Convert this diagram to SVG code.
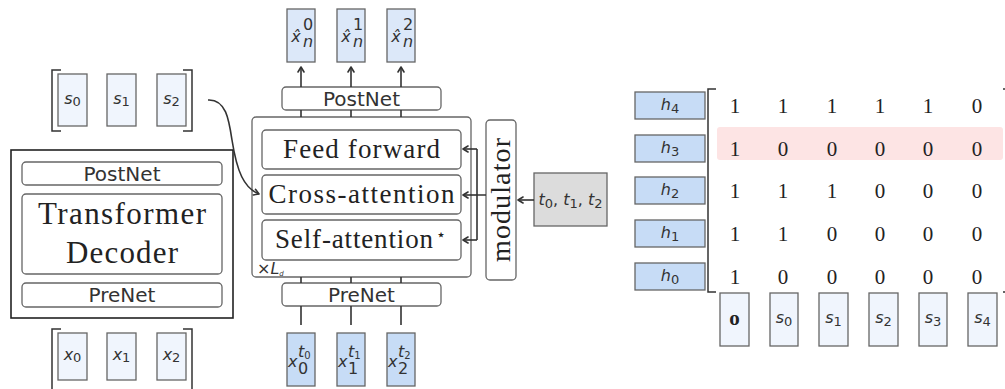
<svg xmlns="http://www.w3.org/2000/svg" width="1005" height="389" viewBox="0 0 1005 389">
  <defs>
    <marker id="arr" markerWidth="8" markerHeight="8" refX="6" refY="4" orient="auto" markerUnits="userSpaceOnUse">
      <path d="M1,1 L6,4 L1,7" fill="none" stroke="#333" stroke-width="1.6" stroke-linecap="round" stroke-linejoin="round"/>
    </marker>
    <style>
      .vec { stroke: #666; stroke-width: 1.3; }
      .lt { fill: #f0f5fd; }
      .md { fill: #dce8f9; }
      .dk { fill: #c7dcf6; }
      .rb { fill: #fff; stroke: #666; stroke-width: 1.3; }
      .brk { fill: none; stroke: #333; stroke-width: 1.5; }
      .ln { fill: none; stroke: #333; stroke-width: 1.6; }
      .sans { font-family: "DejaVu Sans", "Liberation Sans", sans-serif; fill: #333; }
      .serif { font-family: "Liberation Serif", "DejaVu Serif", serif; fill: #222; }
      .var { font-family: "DejaVu Sans", "Liberation Sans", sans-serif; font-style: italic; font-size: 16px; fill: #333; }
      .sub { font-style: normal; font-size: 13px; }
      .up { font-style: normal; }
      .num { font-family: "Liberation Serif", "DejaVu Serif", serif; font-size: 21px; fill: #222; }
    </style>
  </defs>

  <!-- left column: decoder overview -->
  <g id="s-inputs">
    <path class="brk" d="M61,70 H52 V131 H61"/>
    <path class="brk" d="M183,70 H192 V131 H183"/>
    <rect class="vec lt" x="58" y="74" width="29" height="52"/>
    <rect class="vec lt" x="107" y="74" width="29" height="52"/>
    <rect class="vec lt" x="157" y="74" width="29" height="52"/>
    <text class="var" x="72.5" y="104" text-anchor="middle">s<tspan class="sub" dy="2">0</tspan></text>
    <text class="var" x="121.5" y="104" text-anchor="middle">s<tspan class="sub" dy="2">1</tspan></text>
    <text class="var" x="171.5" y="104" text-anchor="middle">s<tspan class="sub" dy="2">2</tspan></text>
  </g>

  <g id="decoder-overview">
    <rect x="11" y="150" width="222" height="168" fill="#fff" stroke="#222" stroke-width="1.6"/>
    <rect class="rb" x="22" y="162" width="200" height="23" rx="4"/>
    <text class="sans" x="122" y="181" font-size="20" text-anchor="middle">PostNet</text>
    <rect class="rb" x="22" y="194" width="200" height="80" rx="4"/>
    <text class="serif" x="122" y="224" font-size="31" text-anchor="middle" textLength="168">Transformer</text>
    <text class="serif" x="122" y="263" font-size="31" text-anchor="middle" textLength="112">Decoder</text>
    <rect class="rb" x="22" y="283" width="200" height="24" rx="4"/>
    <text class="sans" x="122" y="302" font-size="20" text-anchor="middle">PreNet</text>
  </g>

  <g id="x-inputs">
    <path class="brk" d="M61,329 H52 V392"/>
    <path class="brk" d="M183,329 H192 V392"/>
    <rect class="vec lt" x="58" y="333" width="29" height="47"/>
    <rect class="vec lt" x="107" y="333" width="29" height="47"/>
    <rect class="vec lt" x="157" y="333" width="29" height="47"/>
    <text class="var" x="72.5" y="360" text-anchor="middle">x<tspan class="sub" dy="2">0</tspan></text>
    <text class="var" x="121.5" y="360" text-anchor="middle">x<tspan class="sub" dy="2">1</tspan></text>
    <text class="var" x="171.5" y="360" text-anchor="middle">x<tspan class="sub" dy="2">2</tspan></text>
  </g>

  <!-- middle column: detailed decoder layer -->
  <g id="outputs">
    <rect class="vec md" x="287" y="9" width="28" height="53"/>
    <rect class="vec md" x="337" y="9" width="28" height="53"/>
    <rect class="vec md" x="387" y="9" width="28" height="53"/>
    <text class="var" x="296" y="42" text-anchor="middle">x̂</text>
    <text class="var up" x="303" y="30" font-size="11">0</text>
    <text class="var" x="303" y="47" font-size="11">n</text>
    <text class="var" x="346" y="42" text-anchor="middle">x̂</text>
    <text class="var up" x="353" y="30" font-size="11">1</text>
    <text class="var" x="353" y="47" font-size="11">n</text>
    <text class="var" x="396" y="42" text-anchor="middle">x̂</text>
    <text class="var up" x="403" y="30" font-size="11">2</text>
    <text class="var" x="403" y="47" font-size="11">n</text>
  </g>

  <g id="postnet">
    <rect class="rb" x="282" y="87" width="159" height="23" rx="4"/>
    <text class="sans" x="361.5" y="106" font-size="20" text-anchor="middle">PostNet</text>
  </g>

  <g id="decoder-layer">
    <rect class="rb" x="252" y="117" width="219" height="160" rx="4"/>
    <text class="var" x="257" y="274" font-size="9">×L<tspan font-size="7" dy="2">d</tspan></text>
  </g>

  <g id="feed-forward">
    <rect class="rb" x="262" y="130" width="199" height="39" rx="4"/>
    <text class="serif" x="361.5" y="158" font-size="27" text-anchor="middle" textLength="157">Feed forward</text>
  </g>
  <g id="cross-attention">
    <rect class="rb" x="262" y="175" width="199" height="39" rx="4"/>
    <text class="serif" x="361.5" y="203" font-size="27" text-anchor="middle" textLength="186">Cross-attention</text>
  </g>
  <g id="self-attention">
    <rect class="rb" x="262" y="220" width="199" height="40" rx="4"/>
    <text class="serif" x="354" y="248" font-size="27" text-anchor="middle" textLength="158">Self-attention</text>
    <text class="serif" x="441" y="240" font-size="16" text-anchor="middle">⋆</text>
  </g>

  <g id="prenet">
    <rect class="rb" x="282" y="283" width="159" height="23" rx="4"/>
    <text class="sans" x="361.5" y="302" font-size="20" text-anchor="middle">PreNet</text>
  </g>

  <g id="inputs">
    <rect class="vec dk" x="287" y="333" width="28" height="53"/>
    <rect class="vec dk" x="337" y="333" width="28" height="53"/>
    <rect class="vec dk" x="387" y="333" width="28" height="53"/>
    <text class="var" x="288" y="367" font-size="17">x</text>
    <text class="var" x="298" y="357" font-size="12">t<tspan class="up" font-size="10" dy="2">0</tspan></text>
    <text class="var up" x="298" y="374" font-size="12">0</text>
    <text class="var" x="338" y="367" font-size="17">x</text>
    <text class="var" x="348" y="357" font-size="12">t<tspan class="up" font-size="10" dy="2">1</tspan></text>
    <text class="var up" x="348" y="374" font-size="12">1</text>
    <text class="var" x="388" y="367" font-size="17">x</text>
    <text class="var" x="398" y="357" font-size="12">t<tspan class="up" font-size="10" dy="2">2</tspan></text>
    <text class="var up" x="398" y="374" font-size="12">2</text>
  </g>

  <g id="modulator">
    <rect class="rb" x="486" y="120" width="30" height="160" rx="4"/>
    <text class="serif" x="0" y="0" font-size="28" text-anchor="middle" textLength="124" transform="translate(510,200) rotate(-90)">modulator</text>
  </g>

  <g id="timesteps">
    <rect x="534" y="173" width="73" height="53" fill="#dcdcdc" stroke="#666" stroke-width="1.3"/>
    <text class="var" x="570.5" y="205" font-size="18" text-anchor="middle">t<tspan class="sub" font-size="14" dy="3">0</tspan><tspan class="up" dy="-3">, </tspan>t<tspan class="sub" font-size="14" dy="3">1</tspan><tspan class="up" dy="-3">, </tspan>t<tspan class="sub" font-size="14" dy="3">2</tspan></text>
  </g>

  <!-- right column: mask matrix -->
  <g id="mask-rows">
    <rect class="vec dk" x="635" y="92" width="70" height="27"/>
    <rect class="vec dk" x="635" y="135" width="70" height="27"/>
    <rect class="vec dk" x="635" y="177" width="70" height="27"/>
    <rect class="vec dk" x="635" y="220" width="70" height="27"/>
    <rect class="vec dk" x="635" y="263" width="70" height="27"/>
    <text class="var" x="670" y="110" text-anchor="middle">h<tspan class="sub" dy="3">4</tspan></text>
    <text class="var" x="670" y="153" text-anchor="middle">h<tspan class="sub" dy="3">3</tspan></text>
    <text class="var" x="670" y="195" text-anchor="middle">h<tspan class="sub" dy="3">2</tspan></text>
    <text class="var" x="670" y="238" text-anchor="middle">h<tspan class="sub" dy="3">1</tspan></text>
    <text class="var" x="670" y="281" text-anchor="middle">h<tspan class="sub" dy="3">0</tspan></text>
  </g>

  <g id="mask-matrix">
    <rect x="717" y="127" width="286" height="33" rx="3" fill="#fde4e4"/>
    <path class="brk" d="M716,89 H708 V292 H716"/>
    <path class="brk" d="M1003,89 H1006 M1003,292 H1006"/>
    <g class="num" text-anchor="middle">
      <text x="735" y="113">1</text><text x="783" y="113">1</text><text x="832" y="113">1</text><text x="880" y="113">1</text><text x="928" y="113">1</text><text x="977" y="113">0</text>
      <text x="735" y="156">1</text><text x="783" y="156">0</text><text x="832" y="156">0</text><text x="880" y="156">0</text><text x="928" y="156">0</text><text x="977" y="156">0</text>
      <text x="735" y="198">1</text><text x="783" y="198">1</text><text x="832" y="198">1</text><text x="880" y="198">0</text><text x="928" y="198">0</text><text x="977" y="198">0</text>
      <text x="735" y="241">1</text><text x="783" y="241">1</text><text x="832" y="241">0</text><text x="880" y="241">0</text><text x="928" y="241">0</text><text x="977" y="241">0</text>
      <text x="735" y="284">1</text><text x="783" y="284">0</text><text x="832" y="284">0</text><text x="880" y="284">0</text><text x="928" y="284">0</text><text x="977" y="284">0</text>
    </g>
  </g>

  <g id="mask-columns">
    <rect class="vec lt" x="720" y="293" width="29" height="53"/>
    <rect class="vec lt" x="770" y="293" width="28" height="53"/>
    <rect class="vec lt" x="819" y="293" width="29" height="53"/>
    <rect class="vec lt" x="869" y="293" width="29" height="53"/>
    <rect class="vec lt" x="919" y="293" width="28" height="53"/>
    <rect class="vec lt" x="968" y="293" width="29" height="53"/>
    <text class="serif" x="734.5" y="325" font-size="21" font-weight="bold" text-anchor="middle" fill="#333">o</text>
    <text class="var" x="784" y="323" text-anchor="middle">s<tspan class="sub" dy="3">0</tspan></text>
    <text class="var" x="833.5" y="323" text-anchor="middle">s<tspan class="sub" dy="3">1</tspan></text>
    <text class="var" x="883.5" y="323" text-anchor="middle">s<tspan class="sub" dy="3">2</tspan></text>
    <text class="var" x="933" y="323" text-anchor="middle">s<tspan class="sub" dy="3">3</tspan></text>
    <text class="var" x="982.5" y="323" text-anchor="middle">s<tspan class="sub" dy="3">4</tspan></text>
  </g>

  <!-- connectors -->
  <g id="connectors">
    <path class="ln" d="M208,100 C226,99 229,120 232,140 C237,172 244,188 259,194" marker-end="url(#arr)"/>
    <path class="ln" d="M301,87 V67" marker-end="url(#arr)"/>
    <path class="ln" d="M351,87 V67" marker-end="url(#arr)"/>
    <path class="ln" d="M401,87 V67" marker-end="url(#arr)"/>
    <path class="ln" d="M301,110 V117 M351,110 V117 M401,110 V117"/>
    <path class="ln" d="M301,277 V283 M351,277 V283 M401,277 V283"/>
    <path class="ln" d="M301,306 V325 M351,306 V325 M401,306 V325"/>
    <path class="ln" d="M486,195 H477 M477,149 V240"/>
    <path class="ln" d="M477,149 H463" marker-end="url(#arr)"/>
    <path class="ln" d="M477,195 H463" marker-end="url(#arr)"/>
    <path class="ln" d="M477,240 H463" marker-end="url(#arr)"/>
    <path class="ln" d="M534,200 H518" marker-end="url(#arr)"/>
  </g>
</svg>
